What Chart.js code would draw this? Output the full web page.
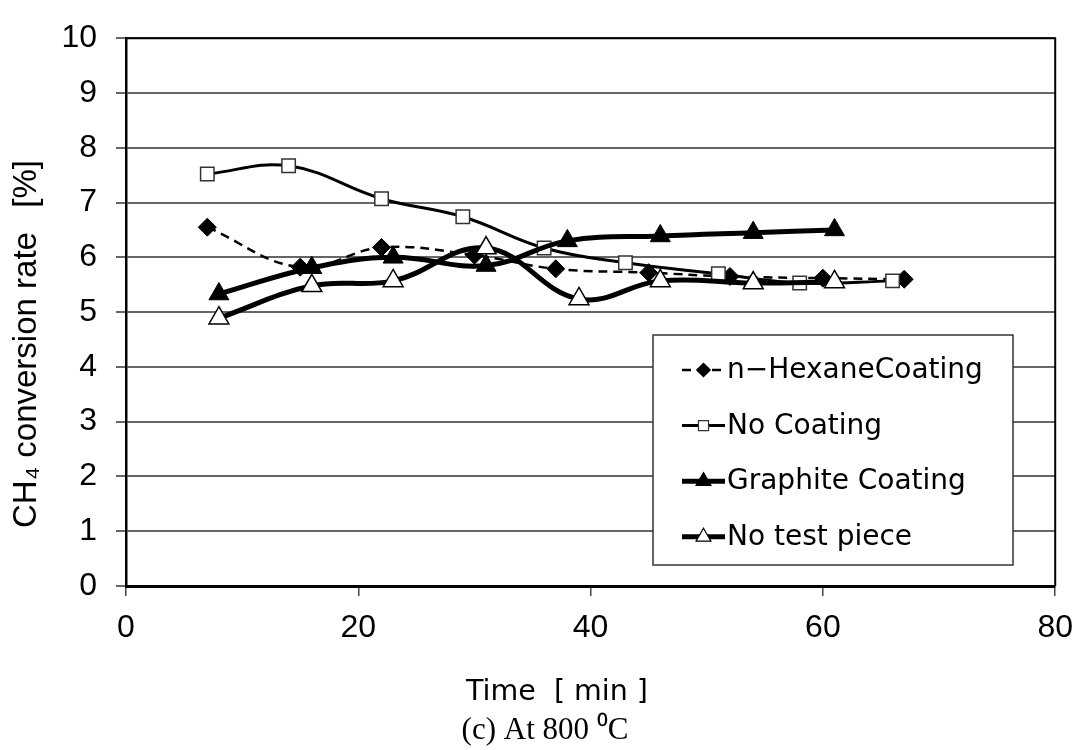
<!DOCTYPE html>
<html>
<head>
<meta charset="utf-8">
<script src="https://cdn.jsdelivr.net/npm/chart.js@4.4.1/dist/chart.umd.min.js"></script>
<style>
  html, body { margin: 0; padding: 0; background: #fff; }
  #wrap { position: relative; width: 1086px; height: 750px; }
</style>
</head>
<body>
<div id="wrap"><canvas id="chart" width="1086" height="750"></canvas></div>
<script>
// values (time in min, CH4 conversion in %)
const seriesNames = ['n\u2212HexaneCoating', 'No Coating', 'Graphite Coating', 'No test piece'];
const hexaneTime = [7, 15, 22, 30, 37, 45, 52, 60, 67];
const hexaneRate = [6.55, 5.82, 6.18, 6.04, 5.79, 5.72, 5.65, 5.62, 5.60];
const noCoatTime = [7, 14, 22, 29, 36, 43, 51, 58, 66];
const noCoatRate = [7.52, 7.67, 7.07, 6.74, 6.17, 5.90, 5.70, 5.53, 5.57];
const graphiteTime = [8, 16, 23, 31, 38, 46, 54, 61];
const graphiteRate = [5.33, 5.81, 6.00, 5.85, 6.30, 6.39, 6.45, 6.50];
const noPieceTime = [8, 16, 23, 31, 39, 46, 54, 61];
const noPieceRate = [4.89, 5.48, 5.57, 6.17, 5.24, 5.57, 5.53, 5.55];
const xTicks = [0, 20, 40, 60, 80];
const yTicks = [0, 1, 2, 3, 4, 5, 6, 7, 8, 9, 10];

const xTitle = 'Time \u00a0[ min ]';
const yTitle = 'CH\u2084 conversion rate';
const yUnit = '[%]';
const caption = '(c) At 800 \u2070C';

function pts(t, v) {
  return t.map((x, i) => ({ x: x, y: v[i] }));
}

// frame, legend box and titles
const decor = {
  id: 'decor',
  afterDatasetsDraw(chart) {
    const ctx = chart.ctx;
    const a = chart.chartArea;
    ctx.save();
    // top and right edge of plot area
    ctx.strokeStyle = '#000';
    ctx.lineWidth = 2;
    ctx.beginPath();
    ctx.moveTo(a.left, a.top);
    ctx.lineTo(a.right, a.top);
    ctx.lineTo(a.right, a.bottom);
    ctx.stroke();

    // legend
    const bx = 653, by = 335, bw = 360, bh = 230;
    ctx.fillStyle = '#fff';
    ctx.fillRect(bx, by, bw, bh);
    ctx.strokeStyle = '#333';
    ctx.lineWidth = 1.5;
    ctx.strokeRect(bx, by, bw, bh);

    chart.data.datasets.forEach((ds, i) => {
      const y = 370 + i * 55.6;
      ctx.save();
      ctx.strokeStyle = ds.borderColor;
      ctx.lineWidth = ds.borderWidth;
      ctx.setLineDash(ds.borderDash || []);
      ctx.beginPath();
      ctx.moveTo(682, y);
      ctx.lineTo(725, y);
      ctx.stroke();
      ctx.setLineDash([]);
      ctx.fillStyle = ds.pointBackgroundColor;
      ctx.strokeStyle = ds.pointBorderColor;
      ctx.lineWidth = 1.2;
      Chart.helpers.drawPoint(ctx, {
        pointStyle: ds.pointStyle, rotation: 0,
        radius: ds.pointRadius * 0.75, borderWidth: 1.2
      }, 703.5, y);
      ctx.restore();

      ctx.fillStyle = '#000';
      ctx.font = '28px "DejaVu Sans"';
      ctx.textAlign = 'left';
      ctx.textBaseline = 'middle';
      ctx.fillText(seriesNames[i], 727, y + 1);
    });

    // axis titles and caption
    ctx.fillStyle = '#000';
    ctx.textAlign = 'center';
    ctx.textBaseline = 'alphabetic';
    ctx.font = '28.5px "DejaVu Sans"';
    ctx.fillText(xTitle, 557, 700);
    ctx.font = '31px "Liberation Serif"';
    ctx.fillText(caption, 545, 739);

    ctx.translate(27, 528);
    ctx.rotate(-Math.PI / 2);
    ctx.font = '33px "Liberation Sans"';
    ctx.textBaseline = 'middle';
    ctx.textAlign = 'left';
    ctx.fillText(yTitle, 0, 0);
    ctx.textAlign = 'right';
    ctx.fillText(yUnit, 368, 0);
    ctx.restore();
  }
};

const tickFont = { family: 'Liberation Sans', size: 32 };

new Chart(document.getElementById('chart'), {
  type: 'line',
  data: {
    datasets: [
      {
        label: seriesNames[0],
        data: pts(hexaneTime, hexaneRate),
        borderColor: '#000', borderWidth: 2.5, borderDash: [9, 6],
        pointStyle: 'rectRot', pointRadius: 9,
        pointBackgroundColor: '#000', pointBorderColor: '#000', pointBorderWidth: 1,
        tension: 0.4, order: 4
      },
      {
        label: seriesNames[1],
        data: pts(noCoatTime, noCoatRate),
        borderColor: '#000', borderWidth: 3,
        pointStyle: 'rect', pointRadius: 9.5,
        pointBackgroundColor: '#fff', pointBorderColor: '#333', pointBorderWidth: 1.5,
        tension: 0.4, order: 3
      },
      {
        label: seriesNames[2],
        data: pts(graphiteTime, graphiteRate),
        borderColor: '#000', borderWidth: 5,
        pointStyle: 'triangle', pointRadius: 11.5,
        pointBackgroundColor: '#000', pointBorderColor: '#000', pointBorderWidth: 1,
        tension: 0.4, order: 2
      },
      {
        label: seriesNames[3],
        data: pts(noPieceTime, noPieceRate),
        borderColor: '#000', borderWidth: 5,
        pointStyle: 'triangle', pointRadius: 11.5,
        pointBackgroundColor: '#fff', pointBorderColor: '#000', pointBorderWidth: 1.5,
        tension: 0.4, order: 1
      }
    ]
  },
  options: {
    responsive: false,
    animation: false,
    events: [],
    layout: { padding: { top: 25, right: 24, left: 0, bottom: 0 } },
    scales: {
      x: {
        type: 'linear', min: 0, max: 80,
        afterBuildTicks: s => { s.ticks = xTicks.map(v => ({ value: v })); },
        afterFit: s => { s.height = 164; },
        grid: { drawOnChartArea: false, color: '#444', lineWidth: 1.5, tickLength: 10 },
        border: { color: '#000', width: 3 },
        ticks: { font: tickFont, color: '#000', padding: 13, maxRotation: 0 }
      },
      y: {
        min: 0, max: 10,
        afterBuildTicks: s => { s.ticks = yTicks.map(v => ({ value: v })); },
        afterFit: s => { s.width = 126; },
        grid: { color: '#666', lineWidth: 2, tickLength: 10 },
        border: { color: '#000', width: 2.5 },
        ticks: { font: tickFont, color: '#000', padding: 19 }
      }
    },
    plugins: {
      legend: { display: false },
      tooltip: { enabled: false }
    }
  },
  plugins: [decor]
});
</script>
</body>
</html>
